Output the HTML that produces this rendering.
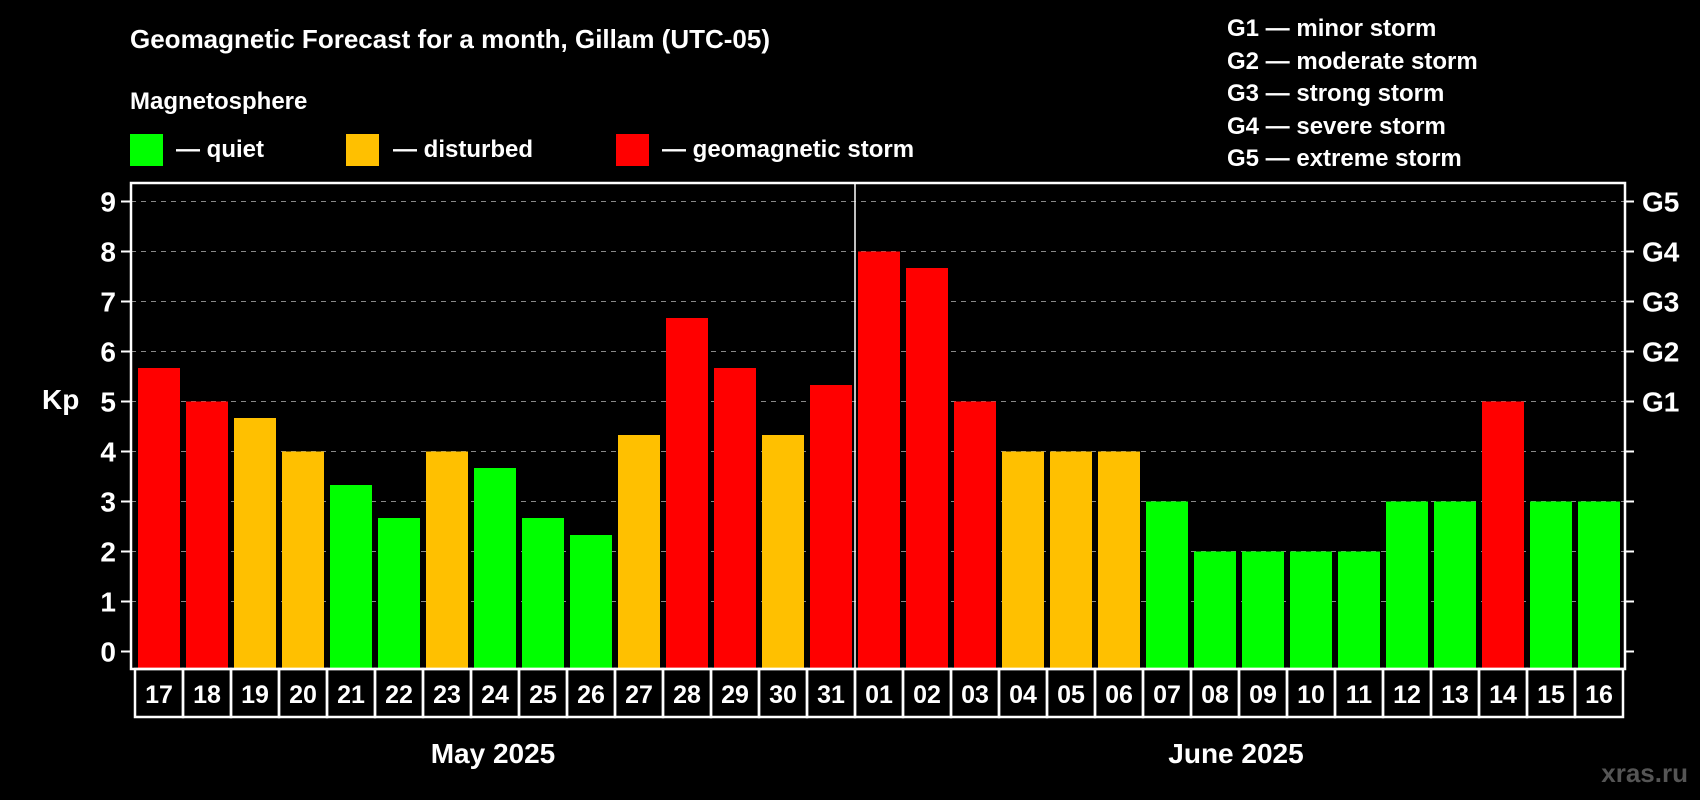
<!DOCTYPE html>
<html><head><meta charset="utf-8"><style>
html,body{margin:0;padding:0;background:#000;}
svg{display:block;font-family:"Liberation Sans",Arial,sans-serif;font-weight:bold;}
</style></head><body>
<svg id="chart" width="1700" height="800" viewBox="0 0 1700 800">
<rect x="0" y="0" width="1700" height="800" fill="#000"/>
<text x="130" y="48" fill="#fff" font-size="26">Geomagnetic Forecast for a month, Gillam (UTC-05)</text>
<text x="130" y="109" fill="#fff" font-size="24">Magnetosphere</text>
<g><rect x="130" y="134" width="33" height="32" fill="#00ff00"/><text x="176" y="157" fill="#fff" font-size="24">— quiet</text></g>
<g><rect x="346" y="134" width="33" height="32" fill="#ffc000"/><text x="393" y="157" fill="#fff" font-size="24">— disturbed</text></g>
<g><rect x="616" y="134" width="33" height="32" fill="#ff0000"/><text x="662" y="157" fill="#fff" font-size="24">— geomagnetic storm</text></g>
<g fill="#fff" font-size="24">
<text x="1227" y="36">G1 — minor storm</text>
<text x="1227" y="69">G2 — moderate storm</text>
<text x="1227" y="101">G3 — strong storm</text>
<text x="1227" y="134">G4 — severe storm</text>
<text x="1227" y="166">G5 — extreme storm</text>
</g>
<text x="42" y="409" fill="#fff" font-size="28">Kp</text>
<g id="grid"></g>
<g id="bars"></g>
<g id="axes"></g>
<text x="493" y="763" fill="#fff" font-size="28" text-anchor="middle">May 2025</text>
<text x="1236" y="763" fill="#fff" font-size="28" text-anchor="middle">June 2025</text>
<text x="1688" y="782" fill="#555" font-size="26" text-anchor="end">xras.ru</text>
</svg>
<script>
const days = ["17","18","19","20","21","22","23","24","25","26","27","28","29","30","31","01","02","03","04","05","06","07","08","09","10","11","12","13","14","15","16"];
const kpValues = [5.67,5,4.67,4,3.33,2.67,4,3.67,2.67,2.33,4.33,6.67,5.67,4.33,5.33,8,7.67,5,4,4,4,3,2,2,2,2,3,3,5,3,3];
const yTicks = [0,1,2,3,4,5,6,7,8,9];
const gLabels = ["G1","G2","G3","G4","G5"];
const gLevels = [5,6,7,8,9];

const NS="http://www.w3.org/2000/svg";
const L=131,R=1625,T=183,B=669,cellL=135,step=48;
const y=v=>651.5-50*v;
const xc=i=>cellL+step*i;
function mk(tag,attrs,parent){const e=document.createElementNS(NS,tag);for(const k in attrs)e.setAttribute(k,attrs[k]);parent.appendChild(e);return e;}
const grid=document.getElementById('grid'),bars=document.getElementById('bars'),axes=document.getElementById('axes');
yTicks.forEach(v=>{
  if(v>0){const g=mk('line',{x1:L,x2:R,y1:y(v),y2:y(v),stroke:'#888','stroke-dasharray':'5,5','stroke-width':1},grid);
  
  }
  const t=mk('line',{x1:L-10,x2:L,y1:y(v),y2:y(v),stroke:'#fff','stroke-width':2},axes);
  
  
  const t2=mk('line',{x1:R,x2:R+9,y1:y(v),y2:y(v),stroke:'#fff','stroke-width':2},axes);
  
  
  const lb=mk('text',{x:116,y:y(v)+10,fill:'#fff','font-size':28,'text-anchor':'end'},axes);lb.textContent=v;
  
  
});
gLabels.forEach((g,i)=>{
  const lb=mk('text',{x:1642,y:y(gLevels[i])+10,fill:'#fff','font-size':28},axes);lb.textContent=g;
  
  
});
kpValues.forEach((v,i)=>{
  const c=v>=5?'#ff0000':(v>=4?'#ffc000':'#00ff00');
  const b=mk('rect',{x:xc(i)+3,y:y(v),width:42,height:B-y(v),fill:c},bars);
  
  
  const box=mk('rect',{x:xc(i),y:B,width:step,height:48,fill:'none',stroke:'#fff','stroke-width':2.5},axes);
  
  
  const t=mk('text',{x:xc(i)+step/2,y:B+34,fill:'#fff','font-size':25,'text-anchor':'middle'},axes);t.textContent=days[i];
  
  
});
const f=mk('rect',{x:L,y:T,width:R-L,height:B-T,fill:'none',stroke:'#fff','stroke-width':2.5},axes);


const d=mk('line',{x1:xc(15),x2:xc(15),y1:T,y2:B,stroke:'#fff','stroke-width':1.5},axes);


</script>
</body></html>
